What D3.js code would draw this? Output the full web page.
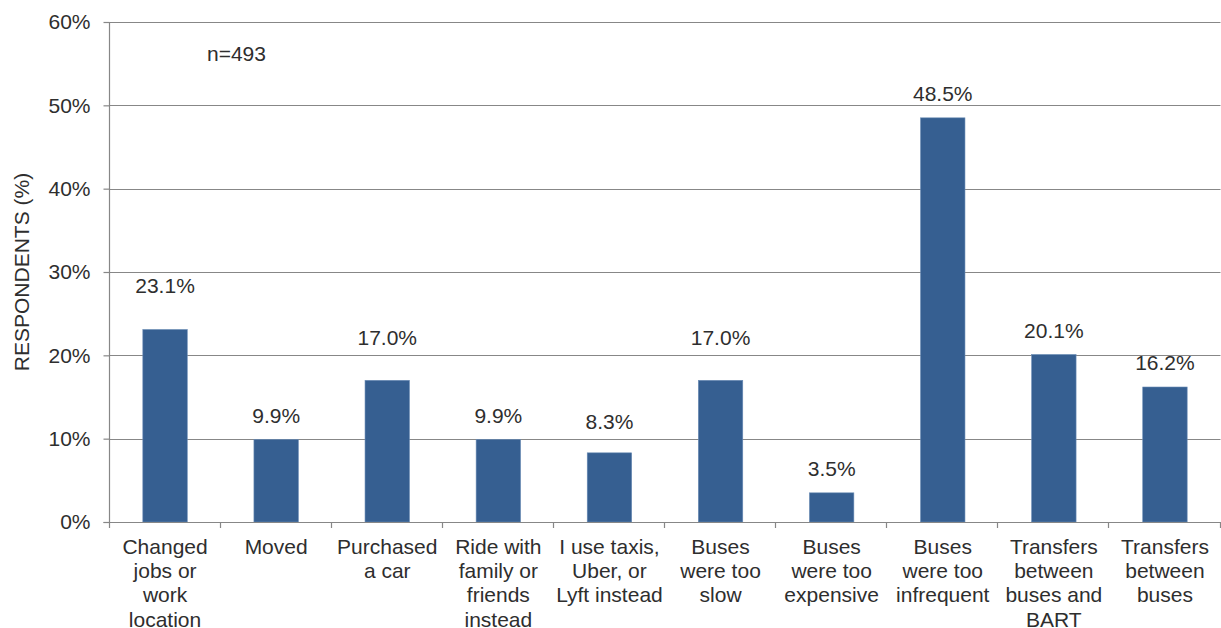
<!DOCTYPE html>
<meta charset="utf-8">
<style>
body { margin: 0; background: #fff; }
text {
  font-family: "Liberation Sans", Arial, sans-serif;
  font-size: 21px;
  fill: #2e2e2e;
}
.grid line, .axis line, .axis path { stroke: #878787; stroke-width: 1.2px; }
</style>
<svg width="1221" height="628"></svg>
<script src="https://d3js.org/d3.v7.min.js"></script>
<script>

var categories = [
  ["Changed", "jobs or", "work", "location"],
  ["Moved"],
  ["Purchased", "a car"],
  ["Ride with", "family or", "friends", "instead"],
  ["I use taxis,", "Uber, or", "Lyft instead"],
  ["Buses", "were too", "slow"],
  ["Buses", "were too", "expensive"],
  ["Buses", "were too", "infrequent"],
  ["Transfers", "between", "buses and", "BART"],
  ["Transfers", "between", "buses"]
];
var values = [23.1, 9.9, 17.0, 9.9, 8.3, 17.0, 3.5, 48.5, 20.1, 16.2];
var yTicks = [0, 10, 20, 30, 40, 50, 60];
var sampleNote = "n=493";
var yTitle = "RESPONDENTS (%)";

var svg = d3.select("svg");
var plotLeft = 109.5, plotRight = 1220.5, plotTop = 22, plotBottom = 522;

var x = d3.scaleBand()
    .domain(d3.range(categories.length))
    .range([plotLeft, plotRight])
    .paddingInner(0.6)
    .paddingOuter(0.3);

var y = d3.scaleLinear()
    .domain([0, 60])
    .range([plotBottom, plotTop]);

// gridlines
svg.append("g")
    .attr("class", "grid")
  .selectAll("line")
  .data(yTicks.slice(1))
  .enter().append("line")
    .attr("x1", plotLeft)
    .attr("x2", plotRight)
    .attr("y1", function(d) { return Math.round(y(d)) + 0.5; })
    .attr("y2", function(d) { return Math.round(y(d)) + 0.5; });

// bars
svg.append("g")
  .selectAll("rect")
  .data(values)
  .enter().append("rect")
    .attr("x", function(d, i) { return x(i); })
    .attr("width", x.bandwidth())
    .attr("y", function(d) { return y(d); })
    .attr("height", function(d) { return plotBottom - y(d); })
    .attr("fill", "#365f91")
    .attr("stroke", "#6a8cb5")
    .attr("stroke-width", 0.6);

// y axis
var yAxis = svg.append("g")
    .attr("class", "axis")
    .attr("transform", "translate(" + plotLeft + ",0)")
    .call(d3.axisLeft(y)
        .tickValues(yTicks)
        .tickSize(6)
        .tickPadding(13)
        .tickFormat(function(d) { return d + "%"; }));
yAxis.select(".domain").attr("d", "M0," + plotTop + "V" + plotBottom);
yAxis.attr("font-family", null).attr("font-size", null);
yAxis.selectAll("text").attr("fill", null);

// x axis (ticks at category boundaries)
var step = x.step();
var bounds = d3.range(categories.length + 1).map(function(i) { return plotLeft + i * step; });
var xAxis = svg.append("g").attr("class", "axis");
xAxis.append("line")
    .attr("x1", plotLeft - 6).attr("x2", plotRight)
    .attr("y1", plotBottom + 0.5).attr("y2", plotBottom + 0.5);
xAxis.selectAll(".tk")
  .data(bounds)
  .enter().append("line")
    .attr("class", "tk")
    .attr("x1", function(d) { return Math.round(d) - 0.5; })
    .attr("x2", function(d) { return Math.round(d) - 0.5; })
    .attr("y1", plotBottom)
    .attr("y2", plotBottom + 6);

// category labels
svg.append("g")
  .selectAll("text")
  .data(categories)
  .enter().append("text")
    .attr("text-anchor", "middle")
    .each(function(lines, i) {
      var t = d3.select(this);
      lines.forEach(function(s, k) {
        t.append("tspan")
          .attr("x", x(i) + x.bandwidth() / 2)
          .attr("y", 554 + k * 24.2)
          .text(s);
      });
    });

// value labels, lifted above a gridline that would cut through them
function labelBaseline(v) {
  var b = y(v) - 17;
  yTicks.forEach(function(t) {
    var gy = y(t);
    if (gy > b - 14 && gy < b + 3) b = gy - 10;
  });
  return b;
}
svg.append("g")
  .selectAll("text")
  .data(values)
  .enter().append("text")
    .attr("text-anchor", "middle")
    .attr("x", function(d, i) { return x(i) + x.bandwidth() / 2; })
    .attr("y", function(d, i) { return i === 0 ? labelBaseline(d) - 20 : labelBaseline(d); })
    .text(function(d) { return d.toFixed(1) + "%"; });

svg.append("text")
    .attr("x", 207)
    .attr("y", 61)
    .text(sampleNote);

svg.append("text")
    .attr("transform", "translate(29,272) rotate(-90)")
    .attr("text-anchor", "middle")
    .text(yTitle);

</script>
